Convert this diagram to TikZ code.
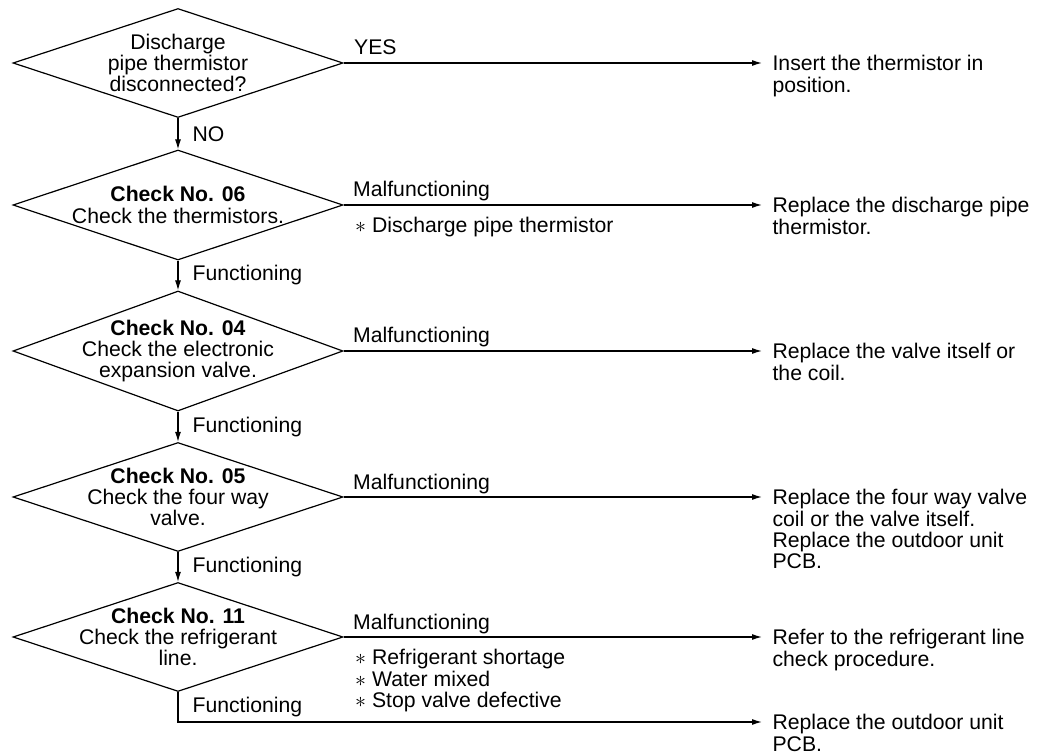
\documentclass[tikz,border=0pt]{standalone}
\usepackage{fontspec}
\setmainfont{Liberation Sans}
\usetikzlibrary{shapes.geometric,arrows.meta,positioning}
\tikzset{
  decision/.style={draw,shape=diamond,inner sep=0pt,minimum width=165pt,minimum height=54.5pt},
  dtext/.style={align=center,inner sep=0pt},
  act/.style={align=left,anchor=north west,inner xsep=5pt,inner ysep=0pt},
  lbl/.style={inner sep=0pt},
  flow/.style={-{Latex[length=5pt,width=3pt]}}
}
\begin{document}
\begin{tikzpicture}[x=0.5pt,y=-0.5pt,line width=0.6pt,font=\fontsize{10.6}{10.6}\selectfont]
    \useasboundingbox (0,0) rectangle (1040,754);
    % decisions
    \foreach \n/\py/\dh in {1/63/54.5,2/205/55,3/351/60,4/497/54.5,5/637/54.5}{
      \node[decision,minimum height=\dh pt] (d\n) at (178,\py) {};
    }
    \node[dtext] (q1) at (d1) {Discharge\\pipe thermistor\\disconnected?};
    \node[dtext] (q2) at (d2) {\textbf{Check No. 06}\\Check the thermistors.};
    \node[dtext] (q3) at (d3) {\textbf{Check No. 04}\\Check the electronic\\expansion valve.};
    \node[dtext] (q4) at (d4) {\textbf{Check No. 05}\\Check the four way\\valve.};
    \node[dtext] (q5) at (d5) {\textbf{Check No. 11}\\Check the refrigerant\\line.};
    % arrow ends and actions
    \foreach \n/\py in {1/63,2/205,3/351,4/497,5/637,6/722}{
      \coordinate (e\n) at (762,\py);
    }
    \node[act] (a1) at ([shift={(0,-8)}]e1) {Insert the thermistor in\\position.};
    \node[act] (a2) at ([shift={(0,-8)}]e2) {Replace the discharge pipe\\thermistor.};
    \node[act] (a3) at ([shift={(0,-8)}]e3) {Replace the valve itself or\\the coil.};
    \node[act] (a4) at ([shift={(0,-8)}]e4) {Replace the four way valve\\coil or the valve itself.\\Replace the outdoor unit\\PCB.};
    \node[act] (a5) at ([shift={(0,-8)}]e5) {Refer to the refrigerant line\\check procedure.};
    \node[act] (a6) at ([shift={(0,-8)}]e6) {Replace the outdoor unit\\PCB.};
    % branches to the right
    \foreach \n in {1,...,5}{
      \draw[flow] (d\n.east) -- (e\n);
    }
    \node[lbl,anchor=base west] (y1) at ([shift={(10,-8)}]d1.east) {YES};
    \foreach \n in {2,...,5}{
      \node[lbl,anchor=base west] (m\n) at ([shift={(9,-8)}]d\n.east) {Malfunctioning};
    }
    \node[lbl,align=left,anchor=base west] (c2) at ([shift={(11,28)}]d2.east)
      {$\ast$ Discharge pipe thermistor};
    \node[lbl,align=left,anchor=north west] (c5) at ([shift={(11,12)}]d5.east)
      {$\ast$ Refrigerant shortage\\$\ast$ Water mixed\\$\ast$ Stop valve defective};
    % main line down
    \draw[flow] (d1.south) -- node[lbl,right=7pt] {NO} (d2.north);
    \foreach \n/\m in {2/3,3/4,4/5}{
      \draw[flow] (d\n.south) -- node[lbl,right=7pt] {Functioning} (d\m.north);
    }
    \draw[flow] (d5.south) |- node[lbl,pos=0.25,right=7pt] {Functioning} (e6);
  \end{tikzpicture}
\end{document}
